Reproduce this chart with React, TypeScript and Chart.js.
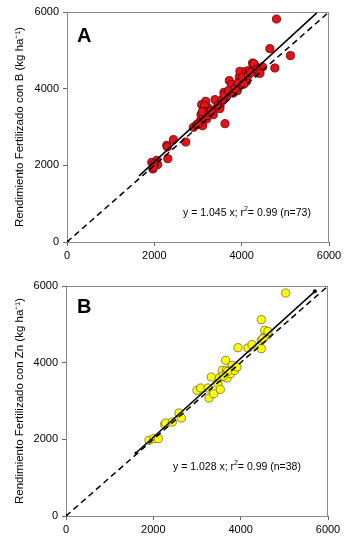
import React, { useEffect, useRef } from "react";
import { Chart, registerables } from "chart.js";
Chart.register(...registerables);

// ---------- data ----------
const AXIS_MIN = 0;
const AXIS_MAX = 6000;
const TICK_STEP = 2000;

const aX = [1942, 1965, 2056, 2072, 2285, 2308, 2437, 2719, 2894, 2970, 3069, 3084, 3107, 3138, 3176, 3176, 3199, 3237, 3351, 3389, 3503, 3541, 3595, 3618, 3656, 3717, 3770, 3808, 3884, 3900, 3945, 3960, 3998, 4037, 4098, 4113, 4174, 4250, 4265, 4303, 4341, 4402, 4478, 4646, 4760, 4798, 5118,
  3050, 3120, 3150, 3180, 3220, 3100, 3260, 3300, 3450, 3500, 3560, 3600, 3700, 3850, 3920, 4020, 4150, 4200, 4280, 4350, 4420, 4050, 2000, 1980, 2300, 3000];
const aY = [2078, 1904, 2130, 2017, 2522, 2174, 2670, 2609, 2991, 3061, 3322, 3583, 3035, 3452, 3670, 3365, 3209, 3496, 3322, 3713, 3539, 3670, 3904, 3087, 3800, 4209, 4104, 3887, 4043, 3948, 4304, 4452, 4104, 4217, 4452, 4191, 4478, 4670, 4452, 4600, 4409, 4496, 4565, 5043, 4539, 5817, 4861,
  3150, 3250, 3550, 3400, 3300, 3400, 3380, 3420, 3550, 3480, 3720, 3830, 3950, 4000, 4150, 4300, 4350, 4420, 4650, 4500, 4400, 4120, 2040, 1950, 2480, 3080];

const bX = [1901, 2008, 2115, 2260, 2282, 2435, 2588, 2641, 3000, 3084, 3252, 3275, 3328, 3382, 3481, 3519, 3534, 3580, 3656, 3672, 3687, 3771, 3809, 3863, 3916, 3939, 4168, 4260, 4473, 4473, 4473, 4550, 4550, 4626, 5031, 3700, 4510, 3600];
const bY = [1974, 2017, 2017, 2391, 2426, 2452, 2687, 2557, 3278, 3339, 3339, 3078, 3626, 3191, 3452, 3609, 3304, 3800, 4061, 3800, 3600, 3713, 3930, 3800, 3887, 4391, 4383, 4470, 5122, 4365, 4583, 4843, 4670, 4817, 5817, 3770, 4626, 3650];

// regression line end points (y = slope * x)
const regAX = [1650, 5720];
const regAY = [1724, 5977];
const regBX = [1600, 5700];
const regBY = [1645, 5860];

// 1:1 line
const oneX = [0, 6000];
const oneY = [0, 6000];

const titleA = "Rendimiento Fertilizado con B (kg ha\u207B\u00B9)";
const titleB = "Rendimiento Fertilizado con Zn (kg ha\u207B\u00B9)";
const eqA = ["y = 1.045 x; r", "2", "= 0.99 (n=73)"];
const eqB = ["y = 1.028 x; r", "2", "= 0.99 (n=38)"];
const eqPosA = [2656, 678];
const eqPosB = [2450, 1200];

const FONT = '"Liberation Sans", Arial, sans-serif';

const decorPlugin = {
  id: "decor",
  beforeDatasetsDraw(chart: any) {
    const { ctx, chartArea: ca } = chart;
    ctx.save();
    ctx.strokeStyle = "#8a8a8a";
    ctx.lineWidth = 1;
    ctx.strokeRect(ca.left + 0.5, ca.top + 0.5, ca.right - ca.left - 1, ca.bottom - ca.top);
    ctx.restore();
  },
  afterDraw(chart: any, _a: any, opts: any) {
    const { ctx, chartArea: ca, scales } = chart;
    ctx.save();
    ctx.fillStyle = "#000";
    ctx.textBaseline = "alphabetic";
    ctx.textAlign = "left";
    ctx.font = `bold 20px ${FONT}`;
    ctx.fillText(opts.letter, ca.left + opts.letterDx, ca.top + opts.letterDy);
    const x0 = scales.x.getPixelForValue(opts.eqPos[0]);
    const y0 = scales.y.getPixelForValue(opts.eqPos[1]);
    const parts: string[] = opts.eq;
    ctx.font = `10.5px ${FONT}`;
    let x = x0;
    ctx.fillText(parts[0], x, y0);
    x += ctx.measureText(parts[0]).width;
    ctx.font = `7px ${FONT}`;
    ctx.fillText(parts[1], x, y0 - 5);
    x += ctx.measureText(parts[1]).width;
    ctx.font = `10.5px ${FONT}`;
    ctx.fillText(parts[2], x, y0);
    ctx.restore();
  },
};

const plainTick = (v: any) => String(v);

function makeConfig(p: any) {
  const pts = p.xs.map((x: number, i: number) => ({ x, y: p.ys[i] }));
  const reg = p.regX.map((x: number, i: number) => ({ x, y: p.regY[i] }));
  const one = oneX.map((x: number, i: number) => ({ x, y: oneY[i] }));
  return {
    type: "scatter",
    data: {
      datasets: [
        {
          data: reg,
          showLine: true,
          borderColor: "#000",
          borderWidth: 1.5,
          pointRadius: p.regDots,
          pointBackgroundColor: "#000",
          pointBorderWidth: 0,
        },
        {
          data: one,
          showLine: true,
          borderColor: "#000",
          borderWidth: 1.5,
          borderDash: [6, 4],
          pointRadius: [2, 0],
          pointBackgroundColor: "#000",
          pointBorderWidth: 0,
        },
        {
          data: pts,
          showLine: false,
          pointRadius: 4.1,
          pointBackgroundColor: p.fill,
          pointBorderColor: p.stroke,
          pointBorderWidth: 0.8,
        },
      ],
    },
    options: {
      animation: false,
      responsive: false,
      devicePixelRatio: 1,
      layout: { padding: { left: 0, right: p.padRight, top: p.padTop, bottom: 0 } },
      plugins: {
        legend: { display: false },
        tooltip: { enabled: false },
        decor: { letter: p.letter, letterDx: p.letterDx, letterDy: p.letterDy, eq: p.eq, eqPos: p.eqPos },
      },
      scales: {
        x: {
          type: "linear",
          min: AXIS_MIN,
          max: AXIS_MAX,
          afterFit: (s: any) => { s.height = p.xHeight; },
          ticks: { stepSize: TICK_STEP, color: "#000", padding: 3, font: { family: FONT, size: 11 }, maxRotation: 0, callback: plainTick },
          grid: { drawOnChartArea: false, tickLength: 4, color: "#666" },
          border: { color: "#666" },
        },
        y: {
          type: "linear",
          min: AXIS_MIN,
          max: AXIS_MAX,
          afterFit: (s: any) => { s.width = p.yWidth; },
          ticks: { stepSize: TICK_STEP, color: "#000", padding: 4, font: { family: FONT, size: 11 }, callback: plainTick },
          grid: { drawOnChartArea: false, tickLength: 4, color: "#666" },
          border: { color: "#666" },
          title: {
            display: true,
            text: p.title,
            color: "#000",
            font: { family: FONT, size: 11.5 },
            padding: { top: 13, bottom: 0 },
          },
        },
      },
    },
    plugins: [decorPlugin],
  };
}

function Panel(props: any) {
  const ref = useRef<HTMLCanvasElement | null>(null);
  useEffect(() => {
    if (!ref.current) return;
    const chart = new Chart(ref.current, makeConfig(props.cfg) as any);
    return () => chart.destroy();
  }, []);
  return <canvas ref={ref} width={350} height={271} style={{ display: "block", width: 350, height: 271 }} />;
}

export default function App() {
  const cfgA = {
    xs: aX, ys: aY, regX: regAX, regY: regAY, regDots: [0, 0],
    fill: "#e3131b", stroke: "#5a0000",
    letter: "A", letterDx: 10, letterDy: 30, eq: eqA, eqPos: eqPosA,
    title: titleA, padTop: 12, padRight: 21, xHeight: 29, yWidth: 67,
  };
  const cfgB = {
    xs: bX, ys: bY, regX: regBX, regY: regBY, regDots: [1.5, 2],
    fill: "#ffff00", stroke: "#6b6b3a",
    letter: "B", letterDx: 11, letterDy: 27, eq: eqB, eqPos: eqPosB,
    title: titleB, padTop: 15, padRight: 22, xHeight: 26, yWidth: 66,
  };
  return (
    <div style={{ position: "absolute", left: 0, top: 0, width: 350, height: 542, background: "#fff" }}>
      <Panel cfg={cfgA} />
      <Panel cfg={cfgB} />
    </div>
  );
}
